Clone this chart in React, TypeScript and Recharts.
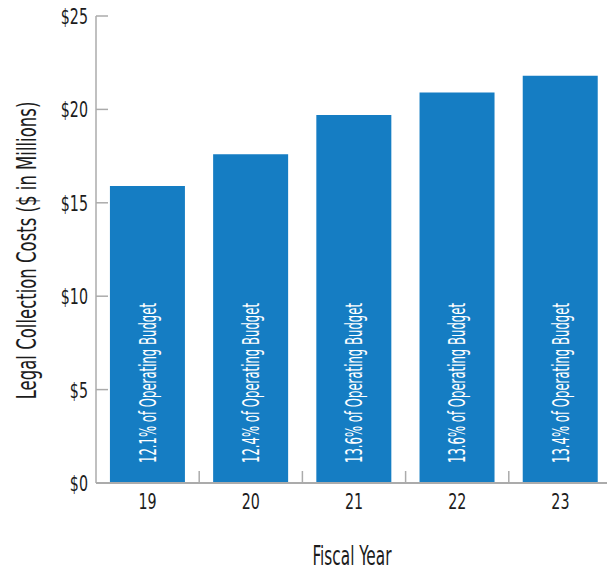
import React from "react";
import { BarChart, Bar, XAxis, YAxis, LabelList } from "recharts";

// Legal collection costs by fiscal year
const fiscalYears = ["19", "20", "21", "22", "23"];
const legalCosts = [15.9, 17.6, 19.7, 20.9, 21.8];
const budgetShares = ["12.1%", "12.4%", "13.6%", "13.6%", "13.4%"];
const costTicks = [0, 5, 10, 15, 20, 25];

const data = fiscalYears.map((year, i) => ({
  year,
  cost: legalCosts[i],
  share: budgetShares[i],
}));

const FONT = '"Liberation Sans Narrow", "DejaVu Sans Condensed", "Roboto", sans-serif';
const INK = "#1c1c1c";
const AXIS = "#ababab";
const BAR = "#157dc3";
const SQUEEZE = 0.72;

const YTick = (props: any) => {
  const { x, y, payload } = props;
  const axisX = x + 8;
  return (
    <g>
      <line x1={axisX} x2={axisX + 12} y1={y} y2={y} stroke={AXIS} strokeWidth={1.5} />
      <text
        transform={`translate(${x},${y}) scale(${SQUEEZE},1)`}
        textAnchor="end"
        dy="0.36em"
        fill={INK}
        fontSize={22}
        fontFamily={FONT}
      >
        ${payload.value}
      </text>
    </g>
  );
};

const XTick = (props: any) => {
  const { x, y, payload, index, width, visibleTicksCount } = props;
  const half = payload.offset ?? width / visibleTicksCount / 2;
  return (
    <g>
      {index > 0 && (
        <line x1={x - half} x2={x - half} y1={y} y2={y - 12} stroke={AXIS} strokeWidth={1.5} />
      )}
      <text
        transform={`translate(${x},${y + 18}) scale(${SQUEEZE},1)`}
        textAnchor="middle"
        dy="0.36em"
        fill={INK}
        fontSize={22}
        fontFamily={FONT}
      >
        {payload.value}
      </text>
    </g>
  );
};

const ShareLabel = (props: any) => {
  const { x, y, width, height, value } = props;
  const cx = x + width / 2;
  const by = y + height - 20;
  return (
    <text
      transform={`translate(${cx},${by}) rotate(-90)`}
      textAnchor="start"
      dy="0.36em"
      fill="#ffffff"
      fontSize={23}
      fontFamily={FONT}
      textLength={160}
      lengthAdjust="spacingAndGlyphs"
    >
      {`${value} of Operating Budget`}
    </text>
  );
};

const YTitle = (props: any) => {
  const { x, y, height } = props.viewBox;
  const cx = x + 26;
  const cy = y + height / 2 + 1;
  return (
    <text
      transform={`translate(${cx},${cy}) rotate(-90) scale(0.68,1)`}
      textAnchor="middle"
      dy="0.36em"
      fill={INK}
      fontSize={27}
      fontFamily={FONT}
    >
      Legal Collection Costs ($ in Millions)
    </text>
  );
};

const XTitle = (props: any) => {
  const { x, y, width } = props.viewBox;
  return (
    <text
      x={x + width / 2 - 2}
      y={y + 82}
      textAnchor="middle"
      fill={INK}
      fontSize={27}
      fontFamily={FONT}
      textLength={79}
      lengthAdjust="spacingAndGlyphs"
    >
      Fiscal Year
    </text>
  );
};

export default function App() {
  return (
    <div
      style={{
        position: "fixed",
        left: 0,
        top: 0,
        width: 607,
        height: 572,
        overflow: "hidden",
        background: "#ffffff",
      }}
    >
      <BarChart
        width={618}
        height={572}
        data={data}
        margin={{ top: 16, right: 6, left: 0, bottom: 0 }}
        barCategoryGap="13.5%"
      >
        <XAxis
          dataKey="year"
          height={89}
          axisLine={{ stroke: AXIS, strokeWidth: 2 }}
          tickLine={false}
          tickSize={0}
          tickMargin={0}
          tick={<XTick />}
          interval={0}
          label={<XTitle />}
        />
        <YAxis
          width={96}
          domain={[0, 25]}
          ticks={costTicks}
          axisLine={{ stroke: AXIS, strokeWidth: 1.5 }}
          tickLine={false}
          tickSize={0}
          tickMargin={8}
          tick={<YTick />}
          interval={0}
          label={<YTitle />}
        />
        <Bar dataKey="cost" fill={BAR} isAnimationActive={false}>
          <LabelList dataKey="share" content={<ShareLabel />} />
        </Bar>
      </BarChart>
    </div>
  );
}
